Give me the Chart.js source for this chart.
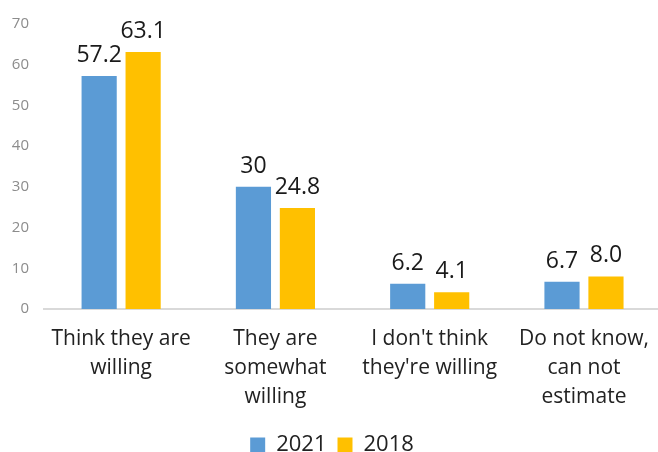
<!DOCTYPE html>
<html>
<head>
<meta charset="utf-8">
<script src="https://cdn.jsdelivr.net/npm/chart.js@4.4.0/dist/chart.umd.min.js"></script>
<style>
  html, body { margin: 0; padding: 0; background: #fff; overflow: hidden; }
  #wrap { width: 664px; height: 466px; }
</style>
</head>
<body>
<div id="wrap"><canvas id="chart" width="664" height="466"></canvas></div>
<script>
const categories = [
  ['Think they are', 'willing'],
  ['They are', 'somewhat', 'willing'],
  ["I don't think", "they're willing"],
  ['Do not know,', 'can not', 'estimate']
];
const values2021 = [57.2, 30, 6.2, 6.7];
const values2018 = [63.1, 24.8, 4.1, 8.0];
const labels2021 = ['57.2', '30', '6.2', '6.7'];
const labels2018 = ['63.1', '24.8', '4.1', '8.0'];
const yTicks = [0, 10, 20, 30, 40, 50, 60, 70];

const FONT = "'Open Sans', 'Noto Sans', sans-serif";

// draws the number above each bar
const barLabels = {
  id: 'barLabels',
  afterDatasetsDraw(chart) {
    const ctx = chart.ctx;
    const texts = [labels2021, labels2018];
    ctx.save();
    ctx.font = '23px ' + FONT;
    ctx.fillStyle = '#1a1a1a';
    ctx.textAlign = 'center';
    ctx.textBaseline = 'alphabetic';
    chart.data.datasets.forEach((ds, i) => {
      chart.getDatasetMeta(i).data.forEach((bar, j) => {
        ctx.fillText(texts[i][j], bar.x, bar.y - 14);
      });
    });
    ctx.restore();
  }
};

const cont = document.getElementById('chart').getContext('2d');
const chart = new Chart(cont, {
  type: 'bar',
  data: {
    labels: categories,
    datasets: [
      { label: '2021', data: values2021, backgroundColor: '#5b9bd5' },
      { label: '2018', data: values2018, backgroundColor: '#ffc000' }
    ]
  },
  options: {
    responsive: false,
    animation: false,
    layout: { padding: { top: 17, right: 0, left: 0, bottom: 0 } },
    datasets: { bar: { categoryPercentage: 0.57, barPercentage: 0.8 } },
    scales: {
      x: {
        grid: { display: false, drawTicks: false },
        border: { display: true, color: '#d9d9d9', width: 2 },
        ticks: { color: '#222', font: { family: FONT, size: 21, lineHeight: 1.4 }, padding: 15, maxRotation: 0, autoSkip: false },
        afterFit(scale) { scale.height = 114; }
      },
      y: {
        min: 0, max: 70,
        afterBuildTicks(scale) { scale.ticks = yTicks.map(v => ({ value: v })); },
        grid: { display: false, drawTicks: false },
        border: { display: false },
        ticks: { color: '#8c8c8c', font: { family: FONT, size: 15 }, padding: 15 },
        afterFit(scale) { scale.width = 44; }
      }
    },
    plugins: {
      legend: {
        position: 'bottom',
        labels: { boxWidth: 15, boxHeight: 15, color: '#222', font: { family: FONT, size: 22 }, padding: 11 }
      },
      tooltip: { enabled: false }
    }
  },
  plugins: [barLabels]
});
</script>
</body>
</html>
